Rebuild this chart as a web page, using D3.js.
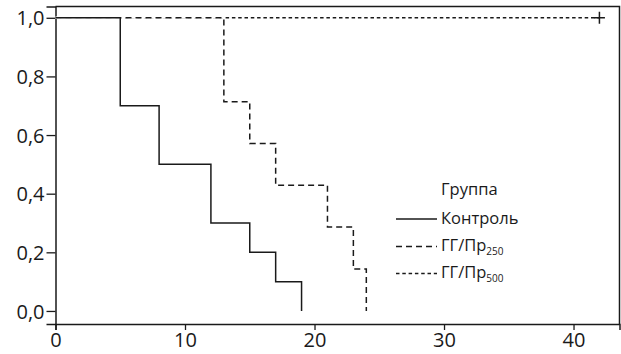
<!DOCTYPE html>
<html>
<head>
<meta charset="utf-8">
<script src="https://cdn.jsdelivr.net/npm/d3@7"></script>
<style>
  body { margin: 0; background: #fff; }
  svg { display: block; font-family: 'Open Sans', sans-serif; }
</style>
</head>
<body>
<div id="wrapper"></div>
<script>
// Kaplan-Meier steps: time and survival fraction
const controlTimes = [0, 5, 8, 12, 15, 17, 19]
const controlSurv = [1, 0.7, 0.5, 0.3, 0.2, 0.1, 0]
const gg250Times = [0, 13, 15, 17, 21, 23, 24]
const gg250Surv = [1, 0.714, 0.571, 0.429, 0.286, 0.143, 0]
const gg500Times = [0, 42]
const gg500Surv = [1, 1]
const gg500Censored = [42]

const xTicks = [0, 10, 20, 30, 40]
const yTicks = [0, 0.2, 0.4, 0.6, 0.8, 1.0]

const legendTitle = 'Группа'

let dimensions = {
  width: 621,
  height: 354,
  margin: { top: 6.5, right: 1.5, bottom: 30, left: 55.5 },
}
dimensions.boundedWidth =
  dimensions.width - dimensions.margin.left - dimensions.margin.right
dimensions.boundedHeight =
  dimensions.height - dimensions.margin.top - dimensions.margin.bottom

const ink = '#1a1a1a'

const svg = d3
  .select('#wrapper')
  .append('svg')
  .attr('width', dimensions.width)
  .attr('height', dimensions.height)

const bounds = svg
  .append('g')
  .attr('transform', `translate(${dimensions.margin.left}, ${dimensions.margin.top})`)

const xScale = d3.scaleLinear().domain([0, 43.55]).range([0, dimensions.boundedWidth])
const yScale = d3.scaleLinear().domain([-0.0445, 1.0385]).range([dimensions.boundedHeight, 0])

// frame: top and right border
bounds
  .append('path')
  .attr('d', `M0,0H${dimensions.boundedWidth}V${dimensions.boundedHeight}`)
  .attr('fill', 'none')
  .attr('stroke', ink)
  .attr('stroke-width', 1.5)

const fmt = (d) => d3.format('.1f')(d).replace('.', ',')

const yAxis = bounds
  .append('g')
  .call(d3.axisLeft(yScale).tickValues(yTicks).tickFormat(fmt).tickSize(9).tickPadding(2))
const xAxis = bounds
  .append('g')
  .attr('transform', `translate(0, ${dimensions.boundedHeight})`)
  .call(d3.axisBottom(xScale).tickValues(xTicks).tickSize(6).tickPadding(3))

;[yAxis, xAxis].forEach((ax) => {
  ax.select('.domain').attr('stroke', ink).attr('stroke-width', 1.5)
  ax.selectAll('.tick line').attr('stroke', ink).attr('stroke-width', 1.3)
  ax.selectAll('text').attr('fill', ink).attr('font-size', 20).attr('font-family', 'Open Sans')
})
yAxis.selectAll('text').attr('dy', '0.36em')

const line = d3
  .line()
  .x((d) => xScale(d[0]))
  .y((d) => yScale(d[1]))
  .curve(d3.curveStepAfter)

const series = [
  { times: gg500Times, surv: gg500Surv, dash: '3.5,2.8' },
  { times: gg250Times, surv: gg250Surv, dash: '6,4' },
  { times: controlTimes, surv: controlSurv, dash: null },
]

// draw each curve over a white underlay so the upper curve hides the one beneath
series.forEach((s) => {
  const pts = d3.zip(s.times, s.surv)
  bounds
    .append('path')
    .attr('d', line(pts))
    .attr('fill', 'none')
    .attr('stroke', '#fff')
    .attr('stroke-width', 2)
  bounds
    .append('path')
    .attr('d', line(pts))
    .attr('fill', 'none')
    .attr('stroke', ink)
    .attr('stroke-width', 1.5)
    .attr('stroke-dasharray', s.dash)
})

// censor mark
gg500Censored.forEach((t) => {
  const cx = xScale(t)
  const cy = yScale(1)
  bounds
    .append('path')
    .attr('d', `M${cx - 5.5},${cy}H${cx + 5.5}M${cx},${cy - 6}V${cy + 6}`)
    .attr('stroke', ink)
    .attr('stroke-width', 1.5)
})

// legend
const legend = svg.append('g').attr('font-family', 'Open Sans').attr('fill', ink)
legend.append('text').attr('x', 441).attr('y', 195).attr('font-size', 16.5).text(legendTitle)

const legendRows = [
  { dash: null, label: 'Контроль', sub: null, y: 219 },
  { dash: '6,4', label: 'ГГ/Пр', sub: '250', y: 246.5 },
  { dash: '3.5,2.8', label: 'ГГ/Пр', sub: '500', y: 273.5 },
]
legendRows.forEach((r) => {
  legend
    .append('line')
    .attr('x1', 396)
    .attr('x2', 437)
    .attr('y1', r.y)
    .attr('y2', r.y)
    .attr('stroke', ink)
    .attr('stroke-width', 1.5)
    .attr('stroke-dasharray', r.dash)
  const t = legend
    .append('text')
    .attr('x', 441)
    .attr('y', r.y + 4.5)
    .attr('font-size', 16.5)
    .text(r.label)
  if (r.sub) {
    t.append('tspan').attr('font-size', 10).attr('dy', 4).text(r.sub)
  }
})
</script>
</body>
</html>
